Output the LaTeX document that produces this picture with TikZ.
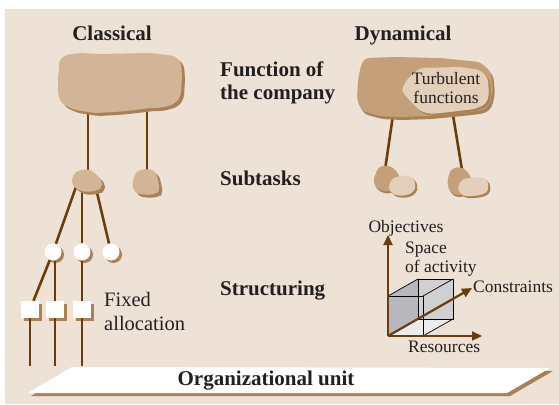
\documentclass[tikz,border=0pt]{standalone}
\usepackage{fontspec}
\setmainfont{Liberation Serif}
\usetikzlibrary{arrows.meta,shadows}

\definecolor{paper}{RGB}{238,225,214}
\definecolor{rock}{RGB}{210,181,150}
\definecolor{rockshade}{RGB}{170,128,85}
\definecolor{rockdark}{RGB}{196,160,122}
\definecolor{rocklight}{RGB}{228,208,186}
\definecolor{stem}{RGB}{108,60,12}
\definecolor{ink}{RGB}{35,31,32}
\definecolor{facedark}{RGB}{184,184,188}
\definecolor{facemid}{RGB}{208,208,210}
\definecolor{facelight}{RGB}{236,236,236}

% rock outlines (pixel-like units, y grows downwards)
\newcommand\rockMain{(65,55) -- (80,53) -- (100,54) -- (150,53) -- (175,56) -- (181,62) -- (182,75) -- (181,95) -- (176,103) -- (168,106) -- (160,108) -- (150,108) -- (135,110) -- (115,112) -- (95,113) -- (75,110) -- (62,104) -- (58,95) -- (58,75) -- (60,66) -- (58,62) -- cycle}
\newcommand\rockSubA{(75,172) -- (84,169) -- (92,170) -- (97,176) -- (102,180) -- (102,188) -- (96,191) -- (85,192) -- (78,190) -- (72,185) -- (72,178) -- cycle}
\newcommand\rockSubB{(138,170) -- (150,169) -- (156,172) -- (158,180) -- (160,190) -- (156,194) -- (145,195) -- (135,193) -- (132,185) -- (134,176) -- cycle}
\newcommand\rockDyn{(365,58) -- (395,57) -- (440,58) -- (480,62) -- (491,72) -- (493,90) -- (490,104) -- (484,110) -- (470,112) -- (450,114) -- (430,116) -- (400,117) -- (380,116) -- (362,111) -- (357,100) -- (358,80) -- (361,65) -- cycle}
\newcommand\rockTurb{(420,68) -- (460,67) -- (480,70) -- (488,78) -- (489,95) -- (486,104) -- (475,109) -- (450,112) -- (430,114) -- (420,111) -- (410,101) -- (401,90) -- (408,78) -- cycle}
\newcommand\pebDarkA{(378,167) -- (388,165) -- (396,170) -- (400,178) -- (395,190) -- (385,192) -- (376,188) -- (373,180) -- (376,174) -- cycle}
\newcommand\pebLightA{(392,178) -- (405,175) -- (413,177) -- (416,185) -- (414,192) -- (405,196) -- (393,195) -- (388,188) -- cycle}
\newcommand\pebDarkB{(452,168) -- (462,167) -- (468,172) -- (472,180) -- (468,192) -- (458,196) -- (450,192) -- (447,183) -- (449,174) -- cycle}
\newcommand\pebLightB{(462,179) -- (476,177) -- (486,178) -- (489,186) -- (487,193) -- (476,196) -- (462,196) -- (457,188) -- cycle}
\newcommand\plate{(72,367) -- (550,368) -- (507,393) -- (28,393) -- cycle}

\tikzset{
  heading/.style={font=\bfseries\fontsize{21}{22}\selectfont, text=ink, inner sep=0pt},
  note/.style={font=\fontsize{17.5}{19}\selectfont, text=ink, inner sep=0pt},
  conn/.style={draw=stem, line width=2.6pt},
  axis/.style={draw=stem, line width=2.2pt, -{Triangle[length=10pt,width=9pt]}},
  slot/.style={circle, fill=white, minimum size=17pt, inner sep=0pt,
    drop shadow={shadow xshift=2.5pt, shadow yshift=-2.5pt, fill=rockshade, opacity=1}},
  cell/.style={rectangle, fill=white, minimum width=18pt, minimum height=17pt, inner sep=0pt,
    drop shadow={shadow xshift=3pt, shadow yshift=-3pt, fill=rockshade, opacity=1}},
  cubeline/.style={draw=black, line width=0.7pt},
  rocky/.style={rounded corners=4pt},
}

\begin{document}
\begin{tikzpicture}[x=1pt, y=-1pt]
\useasboundingbox (0,0) rectangle (559,404);
\fill[paper] (5,9) rectangle (559,404);

% ---- column headings and row labels (base of a multi-line node = last line)
\node[heading, anchor=base] (hclass) at (112,40.5) {Classical};
\node[heading, anchor=base] (hdyn) at (403,40.5) {Dynamical};
\node[heading, anchor=base west, align=left] (rfunc) at (220,99) {Function of\\the company};
\node[heading, anchor=base west] (rsub) at (220,185) {Subtasks};
\node[heading, anchor=base west] (rstruct) at (220,295) {Structuring};

% ---- organizational unit plate
\fill[rockshade, shift={(3,3)}] \plate;
\fill[white] \plate;
\node[heading, anchor=base] (unit) at (266,385) {Organizational unit};

% ---- classical hierarchy
\coordinate (mainL) at (88,105);
\coordinate (mainR) at (147,105);
\coordinate (subA) at (88,178);
\coordinate (subB) at (147,178);
\coordinate (subAl) at (77,184);
\coordinate (subAm) at (82,188);
\coordinate (subAr) at (95,184);

\node[slot] (c1) at (53,252) {};
\node[slot] (c2) at (82,252) {};
\node[slot] (c3) at (111,252) {};
\node[cell] (q1) at (30,309.5) {};
\node[cell] (q2) at (55,309.5) {};
\node[cell] (q3) at (82,309.5) {};
\coordinate (f1) at (30,366);
\coordinate (f2) at (55,366);
\coordinate (f3) at (82,366);

\draw[conn] (mainL) -- (subA);
\draw[conn] (mainR) -- (subB);
\draw[conn] (subAl) -- (c1);
\draw[conn] (subAm) -- (c2);
\draw[conn] (subAr) -- (c3);
\draw[conn] (c1) -- (q1);
\draw[conn] (q2 |- c1.south) -- (q2);
\draw[conn] (c2) -- (q3);
\draw[conn] (q1) -- (f1);
\draw[conn] (q2) -- (f2);
\draw[conn] (q3) -- (f3);

\fill[rockshade, rocky, shift={(3,3)}] \rockMain;
\fill[rock, rocky] \rockMain;
\fill[rockshade, rocky, shift={(3,3)}] \rockSubA;
\fill[rock, rocky] \rockSubA;
\fill[rockshade, rocky, shift={(3,3)}] \rockSubB;
\fill[rock, rocky] \rockSubB;

\node[font=\fontsize{20.5}{24}\selectfont, text=ink, inner sep=0pt, anchor=base west, align=left]
  (fixed) at (104,330) {Fixed\\allocation};

% ---- dynamical hierarchy
\coordinate (dynL) at (393,115);
\coordinate (dynR) at (453,115);
\coordinate (pebA) at (385,170);
\coordinate (pebB) at (462,170);
\draw[conn] (dynL) -- (pebA);
\draw[conn] (dynR) -- (pebB);

\fill[rockshade, rocky, shift={(2,3)}] \rockDyn;
\fill[rockdark, rocky] \rockDyn;
\fill[rockshade, rocky, shift={(2,2)}] \rockTurb;
\fill[rocklight, rocky] \rockTurb;
\node[note, align=center, anchor=base] (turb) at (446,103) {Turbulent\\functions};

\fill[rockshade, rocky, shift={(1,2)}] \pebDarkA;
\fill[rockdark, rocky] \pebDarkA;
\fill[rockshade, rocky, shift={(2,2)}] \pebLightA;
\fill[rocklight, rocky] \pebLightA;
\fill[rockshade, rocky, shift={(1,2)}] \pebDarkB;
\fill[rockdark, rocky] \pebDarkB;
\fill[rockshade, rocky, shift={(2,2)}] \pebLightB;
\fill[rocklight, rocky] \pebLightB;

% ---- space of activity cube
\coordinate (O) at (388,336);
\coordinate (A) at (388,296);
\coordinate (B) at (423,296);
\coordinate (C) at (423,336);
\coordinate (A2) at (418,279);
\coordinate (B2) at (453,279);
\coordinate (C2) at (453,319);
\coordinate (D2) at (418,319);
\fill[facemid] (A2) -- (B2) -- (C2) -- (D2) -- cycle;
\fill[facemid] (A) -- (B) -- (B2) -- (A2) -- cycle;
\fill[facelight] (O) -- (C) -- (C2) -- (D2) -- cycle;
\fill[facedark] (A) -- (A2) -- (D2) -- (O) -- cycle;
\draw[cubeline] (A) -- (B) -- (C) -- (O) -- cycle;
\draw[cubeline] (A2) -- (B2) -- (C2) -- (D2) -- cycle;
\draw[cubeline] (A) -- (A2) (B) -- (B2) (C) -- (C2) (O) -- (D2);

\coordinate (ytip) at (388,235);
\coordinate (xtip) at (482,336);
\coordinate (ztip) at (472,288);
\draw[axis] (O) -- (ytip);
\draw[axis] (O) -- (xtip);
\draw[axis] (O) -- (ztip);

\node[note, anchor=base] (obj) at (406,232) {Objectives};
\node[note, anchor=base west, align=left] (space) at (405,272) {Space\\of activity};
\node[note, anchor=base west] (cons) at (473,292) {Constraints};
\node[note, anchor=base west] (res) at (408,352) {Resources};
\end{tikzpicture}
\end{document}
